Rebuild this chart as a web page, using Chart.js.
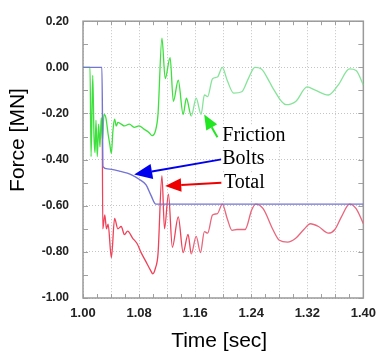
<!DOCTYPE html>
<html>
<head>
<meta charset="utf-8">
<script src="https://cdn.jsdelivr.net/npm/chart.js@4.4.0/dist/chart.umd.min.js"></script>
<style>
    html, body { margin: 0; padding: 0; background: #fff; }
    #wrap { width: 384px; height: 355px; position: relative; }
</style>
</head>
<body>
<div id="wrap"><canvas id="force-chart"></canvas></div>
<script>
// Bolt force (MN) vs time (s)
const boltsTime  = [1.000, 1.027, 1.0285, 1.035, 1.052, 1.070, 1.080, 1.090, 1.097, 1.104, 1.400];
const boltsForce = [0.000, 0.000, -0.430, -0.440, -0.450, -0.467, -0.485, -0.510, -0.555, -0.593, -0.593];

// Friction force
const frictionTime = [
    1.000, 1.010, 1.0115, 1.0139, 1.0157, 1.0172, 1.0185, 1.0204, 1.0223, 1.0242,
    1.0260, 1.0279, 1.0298, 1.0326, 1.0358, 1.0381, 1.0405, 1.0427, 1.0451, 1.0475,
    1.0497, 1.0545, 1.0591, 1.0661, 1.0731, 1.0800, 1.0870, 1.0940, 1.0987, 1.1034,
    1.1070, 1.1126, 1.1173, 1.1243, 1.1289, 1.1359, 1.1429, 1.1475, 1.1545, 1.1615,
    1.1685, 1.1732, 1.1778, 1.1848, 1.1918, 1.1988, 1.2057, 1.2150, 1.2266, 1.2359,
    1.2452, 1.2545, 1.2661, 1.2709, 1.2896, 1.3035, 1.3198, 1.3314, 1.3500, 1.3640,
    1.3803, 1.3897, 1.4000
];
const frictionForce = [
    0.000, 0.000, -0.387, -0.035, -0.300, -0.370, -0.230, -0.387, -0.246, -0.345,
    -0.218, -0.317, -0.204, -0.218, -0.289, -0.331, -0.373, -0.275, -0.225, -0.254,
    -0.239, -0.246, -0.254, -0.246, -0.260, -0.254, -0.268, -0.282, -0.296, -0.275,
    -0.204, 0.127, -0.049, 0.042, -0.148, -0.056, -0.204, -0.134, -0.211, -0.134,
    -0.204, -0.120, -0.127, -0.049, -0.042, 0.000, -0.056, -0.112, -0.106, -0.049,
    0.000, -0.007, -0.063, -0.090, -0.162, -0.148, -0.085, -0.099, -0.120, -0.077,
    -0.007, -0.014, -0.077
];

// Total force
const totalTime = [
    1.0275, 1.0282, 1.0311, 1.0335, 1.0358, 1.0405, 1.0451, 1.0497, 1.0545, 1.0591,
    1.0637, 1.0707, 1.0777, 1.0824, 1.0894, 1.0964, 1.0996, 1.1034, 1.1070, 1.1126,
    1.1163, 1.1219, 1.1275, 1.1359, 1.1429, 1.1499, 1.1545, 1.1615, 1.1676, 1.1732,
    1.1778, 1.1848, 1.1918, 1.1988, 1.2057, 1.2127, 1.2197, 1.2313, 1.2406, 1.2462,
    1.2570, 1.2709, 1.2802, 1.2919, 1.3035, 1.3151, 1.3244, 1.3360, 1.3500, 1.3594,
    1.3687, 1.3803, 1.3897, 1.4000
];
const totalForce = [
    -0.220, -0.700, -0.640, -0.700, -0.680, -0.825, -0.655, -0.700, -0.690, -0.725,
    -0.710, -0.740, -0.767, -0.800, -0.840, -0.880, -0.895, -0.870, -0.810, -0.470,
    -0.700, -0.550, -0.780, -0.648, -0.803, -0.724, -0.809, -0.733, -0.803, -0.712,
    -0.719, -0.640, -0.634, -0.593, -0.655, -0.707, -0.703, -0.703, -0.619, -0.593,
    -0.613, -0.703, -0.750, -0.758, -0.741, -0.703, -0.678, -0.690, -0.719, -0.703,
    -0.648, -0.593, -0.613, -0.678
];

// Arrow callouts, in data units
const callouts = [
    { text: 'Friction', color: '#22e622', tail: [1.1918, -0.303], tip: [1.1729, -0.204], label: [1.1987, -0.318], head: 15 },
    { text: 'Bolts',    color: '#0000ee', tail: [1.1974, -0.399], tip: [1.0730, -0.465], label: [1.1987, -0.420], head: 18 },
    { text: 'Total',    color: '#ee0000', tail: [1.1974, -0.500], tip: [1.1173, -0.514], label: [1.2011, -0.521], head: 16 }
];

function toPoints(times, values) {
    return times.map((t, i) => ({ x: t, y: values[i] }));
}

function drawArrow(ctx, x0, y0, x1, y1, color, headLen) {
    const ang = Math.atan2(y1 - y0, x1 - x0);
    const bx = x1 - headLen * Math.cos(ang);
    const by = y1 - headLen * Math.sin(ang);
    const hw = headLen * 0.42;
    ctx.strokeStyle = color;
    ctx.fillStyle = color;
    ctx.lineWidth = 2;
    ctx.beginPath();
    ctx.moveTo(x0, y0);
    ctx.lineTo(bx, by);
    ctx.stroke();
    ctx.beginPath();
    ctx.moveTo(x1, y1);
    ctx.lineTo(bx + hw * Math.sin(ang), by - hw * Math.cos(ang));
    ctx.lineTo(bx - hw * Math.sin(ang), by + hw * Math.cos(ang));
    ctx.closePath();
    ctx.fill();
}

// Box, inner minor ticks, callouts and axis titles
const framePlugin = {
    id: 'frame',
    beforeDatasetsDraw(chart) {
        const { ctx, chartArea: a, scales: { x, y } } = chart;
        ctx.save();
        ctx.strokeStyle = '#a0a0a0';
        ctx.lineWidth = 1;
        ctx.beginPath();
        for (let i = 0; i <= 20; i++) {
            const px = Math.round(x.getPixelForValue(1 + i * 0.02)) + 0.5;
            ctx.moveTo(px, a.top); ctx.lineTo(px, a.top + 4);
            ctx.moveTo(px, a.bottom); ctx.lineTo(px, a.bottom - 4);
        }
        for (let i = 0; i <= 12; i++) {
            const py = Math.round(y.getPixelForValue(-1 + i * 0.1)) + 0.5;
            ctx.moveTo(a.left, py); ctx.lineTo(a.left + 5, py);
            ctx.moveTo(a.right, py); ctx.lineTo(a.right - 5, py);
        }
        ctx.stroke();
        ctx.lineWidth = 1.5;
        ctx.strokeStyle = '#9a9a9a';
        ctx.strokeRect(a.left, a.top, a.right - a.left, a.bottom - a.top);
        ctx.restore();
    },
    afterDatasetsDraw(chart) {
        const { ctx, scales: { x, y } } = chart;
        ctx.save();
        callouts.forEach(c => {
            drawArrow(ctx,
                x.getPixelForValue(c.tail[0]), y.getPixelForValue(c.tail[1]),
                x.getPixelForValue(c.tip[0]), y.getPixelForValue(c.tip[1]),
                c.color, c.head);
        });
        ctx.font = '20px "Liberation Serif", "Times New Roman", serif';
        ctx.fillStyle = '#000';
        ctx.textBaseline = 'alphabetic';
        ctx.textAlign = 'left';
        callouts.forEach(c => {
            const lx = x.getPixelForValue(c.label[0]);
            const ly = y.getPixelForValue(c.label[1]);
            const w = ctx.measureText(c.text).width;
            ctx.fillStyle = '#fff';
            ctx.fillRect(lx - 1, ly - 15, w + 3, 20);
            ctx.fillStyle = '#000';
            ctx.fillText(c.text, lx, ly);
        });
        ctx.restore();
    },
    afterDraw(chart) {
        const { ctx, chartArea: a } = chart;
        ctx.save();
        ctx.fillStyle = '#000';
        ctx.font = '21px "Liberation Sans", Arial, sans-serif';
        ctx.textAlign = 'center';
        ctx.textBaseline = 'alphabetic';
        ctx.fillText('Time [sec]', (a.left + a.right) / 2 - 4, 347);
        ctx.translate(24, 140);
        ctx.rotate(-Math.PI / 2);
        ctx.fillText('Force [MN]', 0, 0);
        ctx.restore();
    }
};

const gridOpts = { color: '#c4c4c4', lineWidth: 1, drawTicks: false };

function fmt(v) {
    return (Math.abs(v) < 1e-9 ? 0 : v).toFixed(2);
}

const forceChart = new Chart(document.getElementById('force-chart'), {
    type: 'line',
    data: {
        datasets: [
            {
                label: 'Bolts',
                data: toPoints(boltsTime, boltsForce),
                borderColor: '#7474d4',
                borderWidth: 1.4,
                pointRadius: 0,
                cubicInterpolationMode: 'monotone'
            },
            {
                label: 'Friction',
                data: toPoints(frictionTime, frictionForce),
                borderColor: '#7fe08f',
                borderWidth: 1.3,
                pointRadius: 0,
                cubicInterpolationMode: 'monotone',
                segment: {
                    borderColor: ctx => ctx.p0.parsed.x < 1.15 ? '#3de03d' : '#86e49a'
                }
            },
            {
                label: 'Total',
                data: toPoints(totalTime, totalForce),
                borderColor: '#e9647a',
                borderWidth: 1.3,
                pointRadius: 0,
                cubicInterpolationMode: 'monotone',
                segment: {
                    borderColor: ctx => ctx.p0.parsed.x < 1.15 ? '#ee4258' : '#e9667c'
                }
            }
        ]
    },
    options: {
        responsive: true,
        maintainAspectRatio: false,
        animation: false,
        layout: { padding: { left: 0, top: 14, right: 15, bottom: 0 } },
        plugins: {
            legend: { display: false },
            tooltip: { enabled: false }
        },
        scales: {
            x: {
                type: 'linear',
                min: 1.0,
                max: 1.4,
                grid: gridOpts,
                border: { display: false, dash: [1, 2] },
                ticks: {
                    stepSize: 0.04,
                    autoSkip: false,
                    maxRotation: 0,
                    padding: 8,
                    color: '#222',
                    font: { family: '"Liberation Sans", Arial, sans-serif', size: 13, weight: 'bold' },
                    callback: (value, index) => index % 2 === 0 ? fmt(value) : ''
                },
                afterFit: scale => { scale.height = 57; }
            },
            y: {
                min: -1.0,
                max: 0.2,
                grid: gridOpts,
                border: { display: false, dash: [1, 2] },
                ticks: {
                    stepSize: 0.2,
                    padding: 14,
                    color: '#222',
                    font: { family: '"Liberation Sans", Arial, sans-serif', size: 12, weight: 'bold' },
                    callback: value => fmt(value)
                },
                afterFit: scale => { scale.width = 83; }
            }
        }
    },
    plugins: [framePlugin]
});
</script>
</body>
</html>
